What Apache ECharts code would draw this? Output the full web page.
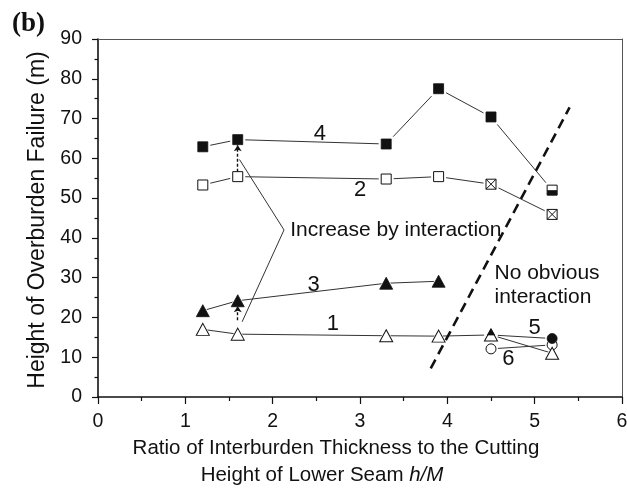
<!DOCTYPE html>
<html>
<head>
<meta charset="utf-8">
<script src="https://cdn.jsdelivr.net/npm/echarts@6/dist/echarts.min.js"></script>
<style>
  html, body { margin: 0; padding: 0; background: #fff; }
  #chart { width: 627px; height: 489px; }
</style>
</head>
<body>
<div id="chart"></div>
<script>
// Overburden failure height against interburden ratio h/M
const xTicks = [0, 1, 2, 3, 4, 5, 6];
const yTicks = [0, 10, 20, 30, 40, 50, 60, 70, 80, 90];

// curve 1 – open triangles
const x1 = [1.2, 1.6, 3.3, 3.9, 4.5, 5.2];
const y1 = [17.0, 15.8, 15.4, 15.3, 15.6, 11.0];
// curve 2 – open squares (crossed at the last two points)
const x2 = [1.2, 1.6, 3.3, 3.9, 4.5, 5.2];
const y2 = [53.3, 55.4, 54.8, 55.4, 53.5, 45.9];
// curve 3 – filled triangles
const x3 = [1.2, 1.6, 3.3, 3.9];
const y3 = [21.7, 24.2, 28.6, 29.1];
// curve 4 – filled squares
const x4 = [1.2, 1.6, 3.3, 3.9, 4.5, 5.2];
const y4 = [62.9, 64.7, 63.6, 77.5, 70.4, 52.0];
// curve 5 – filled circles
const x5 = [4.5, 5.2];
const y5 = [15.6, 14.7];
// curve 6 – open circles
const x6 = [4.5, 5.2];
const y6 = [12.1, 13.1];

// boundary between interacting and non-interacting cases
const boundaryX = [3.81, 5.40];
const boundaryY = [7.2, 72.8];

// vertical increase arrows at h/M = 1.6
const arrowX = [1.6, 1.6];
const arrowFrom = [56.6, 19.3];
const arrowTo = [63.3, 22.8];

// bracket pointing at the "Increase by interaction" note
const bracketX = [1.62, 2.13, 1.65];
const bracketY = [59.7, 42.0, 18.9];

// curve number labels
const curveLabels = ['1', '2', '3', '4', '5', '6'];
const curveLabelX = [2.69, 3.0, 2.47, 2.54, 5.0, 4.70];
const curveLabelY = [18.3, 52.0, 28.1, 66.2, 17.3, 9.5];

const FONT = '"Liberation Sans", Arial, sans-serif';
const INK = '#111';
const LINE = '#333';

const zip = (xs, ys) => xs.map((x, i) => [x, ys[i]]);

const crossedSquare = 'path://M0,0L10,0L10,10L0,10Z M0,0L10,10 M10,0L0,10';

function curve(name, xs, ys) {
  return {
    name, type: 'line', data: zip(xs, ys), symbol: 'none', z: 3,
    lineStyle: { color: LINE, width: 1 }, animation: false, silent: true
  };
}
function halo(xs, ys, symbol, size) {
  return {
    type: 'scatter', data: zip(xs, ys), symbol, symbolSize: size, z: 4,
    itemStyle: { color: '#fff', opacity: 1 }, animation: false, silent: true
  };
}
function markers(xs, ys, symbol, size, filled, overrides) {
  const data = zip(xs, ys).map((p, i) => {
    const o = overrides && overrides[i];
    return o ? Object.assign({ value: p }, o) : p;
  });
  return {
    type: 'scatter', data, symbol, symbolSize: size, z: 5,
    itemStyle: filled
      ? { color: INK, borderColor: INK, borderWidth: 0.8, opacity: 1 }
      : { color: '#fff', borderColor: INK, borderWidth: 1, opacity: 1 },
    animation: false, silent: true
  };
}

const chart = echarts.init(document.getElementById('chart'), null, { renderer: 'canvas' });

const series = [
  curve('1', x1, y1), curve('2', x2, y2), curve('3', x3, y3),
  curve('4', x4, y4), curve('5', x5, y5), curve('6', x6, y6),

  halo(x1, y1, 'triangle', 18), halo(x2, y2, 'rect', 15), halo(x3, y3, 'triangle', 18),
  halo(x4, y4, 'rect', 15), halo(x5, y5, 'circle', 14), halo(x6, y6, 'circle', 14),

  markers(x6, y6, 'circle', 10, false),
  markers(x1, y1, 'triangle', [13, 12], false),
  markers(x2, y2, 'rect', 10, false, { 4: { symbol: crossedSquare }, 5: { symbol: crossedSquare } }),
  markers(x3, y3, 'triangle', [13, 12], true),
  markers(x4, y4, 'rect', 10, true, {
    5: { itemStyle: { color: '#fff', borderColor: INK, borderWidth: 1 } }
  }),
  markers(x5, y5, 'circle', 10, true, {
    0: { symbol: 'triangle', symbolSize: [7, 6], symbolOffset: [0, -3] }
  }),
  // lower half fill of the last square on curve 4
  {
    type: 'scatter', data: [[x4[5], y4[5]]], symbol: 'rect', symbolSize: [10, 5],
    symbolOffset: [0, 2.5], z: 6, itemStyle: { color: INK, opacity: 1 },
    animation: false, silent: true
  },

  // interaction boundary
  {
    type: 'line', data: zip(boundaryX, boundaryY), symbol: 'none', z: 7,
    lineStyle: { color: INK, width: 2.6, type: [10, 6] }, animation: false, silent: true
  },
  // bracket
  {
    type: 'line', data: zip(bracketX, bracketY), symbol: 'none', z: 7,
    lineStyle: { color: LINE, width: 1 }, animation: false, silent: true
  },
  // increase arrows
  {
    type: 'lines', coordinateSystem: 'cartesian2d', z: 7,
    data: arrowX.map((x, i) => ({ coords: [[x, arrowFrom[i]], [x, arrowTo[i]]] })),
    symbol: ['none', 'arrow'], symbolSize: 6,
    lineStyle: { color: INK, width: 1.4, type: [3, 2], opacity: 1 },
    animation: false, silent: true
  },
  // curve numbers and notes
  {
    type: 'scatter', symbolSize: 0, z: 8, animation: false, silent: true,
    itemStyle: { opacity: 1 },
    data: curveLabels.map((t, i) => [curveLabelX[i], curveLabelY[i], t]),
    label: {
      show: true, position: 'inside', formatter: p => p.data[2],
      fontFamily: FONT, fontSize: 22, color: INK, opacity: 1, textBorderWidth: 0
    }
  },
  {
    type: 'scatter', symbolSize: 0, z: 8, animation: false, silent: true,
    itemStyle: { opacity: 1 },
    data: [
      [2.20, 42.0, 'Increase by interaction'],
      [4.54, 28.2, 'No obvious\ninteraction']
    ],
    label: {
      show: true, position: 'inside', align: 'left', formatter: p => p.data[2],
      fontFamily: FONT, fontSize: 21, lineHeight: 24, color: INK, opacity: 1, textBorderWidth: 0
    }
  }
];

chart.setOption({
  backgroundColor: '#fff',
  animation: false,
  grid: { left: 98, right: 5, top: 39, bottom: 92, containLabel: false, outerBoundsMode: 'none' },
  xAxis: [
    {
      type: 'value', min: xTicks[0], max: xTicks[xTicks.length - 1], interval: 1,
      axisLine: { show: true, onZero: false, lineStyle: { color: INK, width: 1.6 } },
      axisTick: { show: true, inside: false, length: 7, lineStyle: { color: INK, width: 1.2 } },
      minorTick: { show: true, splitNumber: 2, length: 4, lineStyle: { color: INK, width: 1.2 } },
      splitLine: { show: false },
      axisLabel: { fontFamily: FONT, fontSize: 19.5, color: INK, margin: 15 }
    },
    {
      type: 'value', position: 'top', min: 0, max: 6,
      axisLine: { show: true, onZero: false, lineStyle: { color: '#555', width: 1 } },
      axisTick: { show: false }, axisLabel: { show: false }, splitLine: { show: false }
    }
  ],
  yAxis: [
    {
      type: 'value', min: yTicks[0], max: yTicks[yTicks.length - 1], interval: 10,
      axisLine: { show: true, onZero: false, lineStyle: { color: INK, width: 1.6 } },
      axisTick: { show: true, inside: false, length: 6, lineStyle: { color: INK, width: 1.2 } },
      minorTick: { show: true, splitNumber: 2, length: 3.5, lineStyle: { color: INK, width: 1.2 } },
      splitLine: { show: false },
      axisLabel: { fontFamily: FONT, fontSize: 19.5, color: INK, margin: 16 }
    },
    {
      type: 'value', position: 'right', min: 0, max: 90,
      axisLine: { show: true, onZero: false, lineStyle: { color: '#555', width: 1 } },
      axisTick: { show: false }, axisLabel: { show: false }, splitLine: { show: false }
    }
  ],
  graphic: [
    {
      type: 'text', x: 12, y: 11, silent: true,
      style: { text: '(b)', font: 'bold 27px "Liberation Serif", "Times New Roman", serif', fill: INK }
    },
    {
      type: 'text', x: 38, y: 220, rotation: Math.PI / 2, silent: true,
      style: {
        text: 'Height of Overburden Failure (m)', align: 'center', verticalAlign: 'middle',
        font: '23px ' + FONT, fill: INK
      }
    },
    {
      type: 'text', x: 336, y: 448, silent: true,
      style: {
        text: 'Ratio of Interburden Thickness to the Cutting', align: 'center', verticalAlign: 'middle',
        font: '20.5px ' + FONT, fill: INK
      }
    },
    {
      type: 'text', x: 322, y: 475, silent: true,
      style: {
        text: 'Height of Lower Seam {i|h/M}', align: 'center', verticalAlign: 'middle',
        font: '20.5px ' + FONT, fill: INK,
        rich: { i: { fontStyle: 'italic', fontFamily: FONT, fontSize: 20.5, fill: INK } }
      }
    }
  ],
  series
});
</script>
</body>
</html>
